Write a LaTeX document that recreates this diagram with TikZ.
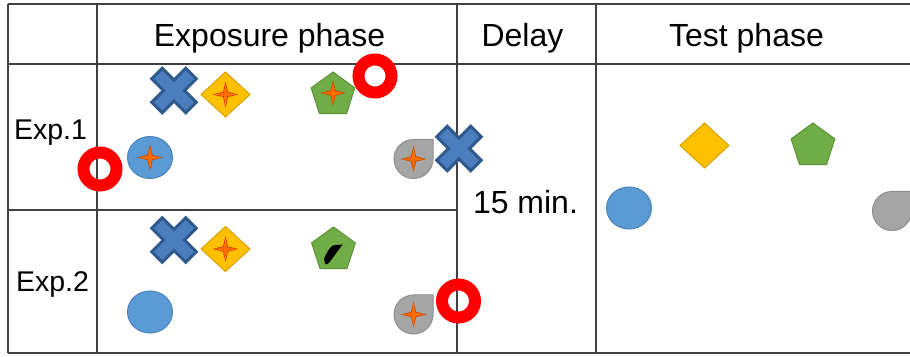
\documentclass[tikz,border=0pt]{standalone}
\usepackage{fontspec}
\setmainfont{Liberation Sans}
\begin{document}
\begin{tikzpicture}[x=1pt,y=1pt,
  gridline/.style={draw=black!75, line width=2},
  head/.style={font=\fontsize{32}{38}\selectfont, anchor=base, inner sep=0},
  rowlab/.style={font=\fontsize{28.5}{34}\selectfont, anchor=base, inner sep=0},
  sparkle/.pic={
    \fill[orange!70!red!80!black] (0,13) -- (2.6,2.6) -- (13,0) -- (2.6,-2.6) -- (0,-13) -- (-2.6,-2.6) -- (-13,0) -- (-2.6,2.6) -- cycle;
    \fill[orange!85!red] (0,11) -- (1.8,1.8) -- (11,0) -- (1.8,-1.8) -- (0,-11) -- (-1.8,-1.8) -- (-11,0) -- (-1.8,1.8) -- cycle;
  },
  bluecross/.pic={
    \filldraw[fill=xblue, draw=xblueedge, line width=3, line join=miter, rotate=45]
      (7.5,7.5) -- (7.5,24) -- (-7.5,24) -- (-7.5,7.5) -- (-24,7.5) -- (-24,-7.5)
      -- (-7.5,-7.5) -- (-7.5,-24) -- (7.5,-24) -- (7.5,-7.5) -- (24,-7.5) -- (24,7.5) -- cycle;
  },
  ydiamond/.pic={
    \filldraw[fill=yfill, draw=yedge, line width=1] (-24.5,0) -- (0,22.5) -- (24.5,0) -- (0,-22.5) -- cycle;
  },
  gpentagon/.pic={
    \filldraw[fill=gfill, draw=gedge, line width=1]
      (0,23) -- (-21.87,7.11) -- (-13.52,-18.61) -- (13.52,-18.61) -- (21.87,7.11) -- cycle;
  },
  bdisc/.pic={
    \filldraw[fill=bfill, draw=bedge, line width=1] (0,0) ellipse[x radius=22.5, y radius=21];
  },
  gdrop/.pic={
    \filldraw[fill=dfill, draw=dedge, line width=1]
      (0,19.5) -- (19.5,19.5) -- (19.5,0) arc[start angle=0, end angle=-270, radius=19.5] -- cycle;
  },
  redring/.pic={
    \draw[draw=ringred, line width=12] (0,0) circle[radius=16.5];
  }
]
\definecolor{xblue}{HTML}{4A7EBF}
\definecolor{xblueedge}{HTML}{305A8C}
\definecolor{yfill}{HTML}{FFC000}
\definecolor{yedge}{HTML}{D8A200}
\definecolor{gfill}{HTML}{70AD47}
\definecolor{gedge}{HTML}{5C9139}
\definecolor{bfill}{HTML}{5B9BD5}
\definecolor{bedge}{HTML}{4A82B8}
\definecolor{dfill}{HTML}{A5A5A5}
\definecolor{dedge}{HTML}{8E8E8E}
\definecolor{ringred}{HTML}{FF0000}

\useasboundingbox (0,0) rectangle (910,356);
\begin{scope}
\clip (0,0) rectangle (910,356);

% table grid
\draw[gridline] (8,352) -- (910,352);
\draw[gridline] (8,292) -- (910,292);
\draw[gridline] (8,146) -- (457,146);
\draw[gridline] (8,3) -- (910,3);
\draw[gridline] (8,3) -- (8,352);
\draw[gridline] (97,3) -- (97,352);
\draw[gridline] (457,3) -- (457,352);
\draw[gridline] (596,3) -- (596,352);

% headers and labels
\node[head] (hexp) at (269.5,309) {Exposure phase};
\node[head] (hdel) at (522.5,309) {Delay};
\node[head] (htest) at (746.5,309) {Test phase};
\node[rowlab] (exp1) at (50.5,216) {Exp.1};
\node[rowlab] (exp2) at (52.5,64) {Exp.2};
\node[head] (wait) at (525.5,142) {15 min.};

% Exp.1 exposure objects
\pic at (174,265.5) {bluecross};
\pic at (225.5,261.5) {ydiamond};
\pic at (225.5,261.5) {sparkle};
\pic at (333,261) {gpentagon};
\pic at (333,263) {sparkle};
\pic at (150,198.5) {bdisc};
\pic at (150,198.5) {sparkle};
\pic at (413.5,197) {gdrop};
\pic at (413.5,197) {sparkle};
\pic at (459,207.5) {bluecross};
\pic at (375,280) {redring};
\pic at (100,187) {redring};

% Exp.2 exposure objects
\pic at (174,116) {bluecross};
\pic at (225.5,107) {ydiamond};
\pic at (225.5,107) {sparkle};
\pic at (333.5,106) {gpentagon};
\fill[black] (332.5,110.5) -- (342.5,111.5) -- (329,93) -- (325.5,91.5)
  -- (324,97) .. controls (326.5,103) and (329,107.5) .. cycle;
\pic at (150,44) {bdisc};
\pic at (413.5,41.5) {gdrop};
\pic at (413.5,41.5) {sparkle};
\pic at (458.5,55) {redring};

% test phase objects
\pic at (704.5,210.5) {ydiamond};
\pic at (813,210) {gpentagon};
\pic at (629,148) {bdisc};
\pic at (892,145) {gdrop};
\end{scope}
\end{tikzpicture}
\end{document}
